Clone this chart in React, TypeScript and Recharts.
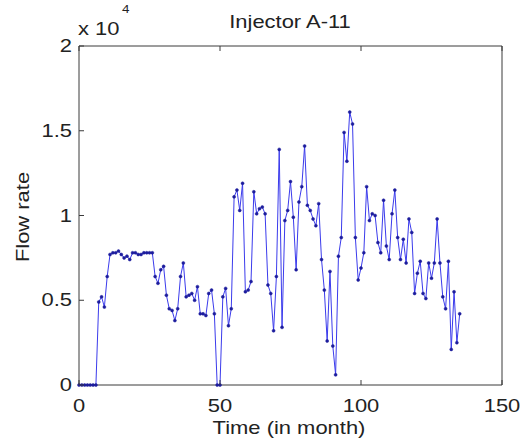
import { Line, LineChart, XAxis, YAxis } from 'recharts'

// monthly injection flow rate, months start at 0
const flowRate = [
  0, 0, 0, 0, 0, 0, 0, 4900, 5200, 4600,
  6400, 7700, 7800, 7800, 7900, 7700, 7500, 7600, 7400, 7800,
  7800, 7700, 7700, 7800, 7800, 7800, 7800, 6400, 6000, 6800,
  7000, 5300, 4500, 4400, 3800, 4500, 6400, 7200, 5200, 5300,
  5400, 5000, 5800, 4200, 4200, 4100, 5400, 5600, 4200, 0,
  0, 5200, 5700, 3500, 4500, 11100, 11500, 10300, 11900, 5500,
  5600, 6100, 11400, 10100, 10400, 10500, 10100, 5900, 5400, 3200,
  6400, 13900, 3400, 9700, 10300, 12000, 9900, 6800, 10800, 11700,
  14100, 10600, 10300, 9800, 9400, 10700, 7400, 5600, 2600, 6700,
  2300, 600, 7600, 8700, 14900, 13200, 16100, 15400, 8700, 6200,
  6900, 7800, 11700, 9700, 10100, 10000, 8400, 7800, 10900, 8200,
  7400, 10100, 11500, 8700, 7400, 8600, 7200, 9800, 9000, 5400,
  6600, 7300, 5400, 5100, 7200, 6300, 7200, 9800, 7200, 5200,
  4500, 7300, 2100, 5500, 2500, 4200,
]

const xTicks = [0, 50, 100, 150]
const yTicks = [0, 5000, 10000, 15000, 20000]
const yTickLabels = ['0', '0.5', '1', '1.5', '2']

const data = flowRate.map((flow, month) => ({ month, flow }))

const FONT = '"Liberation Sans", Arial, Helvetica, sans-serif'
const AXIS = '#3a3a3a'
const TEXT = '#222'
// the old figure's lettering is wider than plain Arial
const STRETCH = 1.22

const Txt = ({ x, y, anchor = 'start', size = 18, children }: any) => (
  <text
    transform={`translate(${x},${y}) scale(${STRETCH},1)`}
    textAnchor={anchor}
    fontSize={size}
    fontFamily={FONT}
    fill={TEXT}
  >
    {children}
  </text>
)

const BottomTick = ({ x, y, payload }: any) => (
  <g>
    <line x1={x} y1={y} x2={x} y2={y - 5} stroke={AXIS} />
    <Txt x={x} y={y + 27} anchor="middle">
      {payload.value}
    </Txt>
  </g>
)

const TopTick = ({ x, y }: any) => <line x1={x} y1={y} x2={x} y2={y + 5} stroke={AXIS} />

const LeftTick = ({ x, y, payload }: any) => (
  <g>
    <line x1={x} y1={y} x2={x + 5} y2={y} stroke={AXIS} />
    <Txt x={x - 7} y={y + 6} anchor="end">
      {yTickLabels[yTicks.indexOf(payload.value)]}
    </Txt>
  </g>
)

const RightTick = ({ x, y }: any) => <line x1={x} y1={y} x2={x - 5} y2={y} stroke={AXIS} />

export default function App() {
  return (
    <div style={{ position: 'absolute', left: 0, top: 0, width: 531, height: 448, background: '#fff' }}>
      <LineChart width={531} height={448} data={data} margin={{ top: 45, right: 28, bottom: 33, left: 39 }}>
        <XAxis
          xAxisId="bottom"
          dataKey="month"
          type="number"
          domain={[0, 150]}
          ticks={xTicks}
          height={30}
          tickSize={0}
          tickMargin={0}
          tickLine={false}
          axisLine={{ stroke: AXIS }}
          tick={<BottomTick />}
        />
        <XAxis
          xAxisId="top"
          orientation="top"
          dataKey="month"
          type="number"
          domain={[0, 150]}
          ticks={xTicks}
          height={1}
          tickSize={0}
          tickMargin={0}
          tickLine={false}
          axisLine={{ stroke: AXIS }}
          tick={<TopTick />}
        />
        <YAxis
          yAxisId="left"
          type="number"
          domain={[0, 20000]}
          ticks={yTicks}
          width={40}
          tickSize={0}
          tickMargin={0}
          tickLine={false}
          axisLine={{ stroke: AXIS }}
          tick={<LeftTick />}
        />
        <YAxis
          yAxisId="right"
          orientation="right"
          type="number"
          domain={[0, 20000]}
          ticks={yTicks}
          width={1}
          tickSize={0}
          tickMargin={0}
          tickLine={false}
          axisLine={{ stroke: AXIS }}
          tick={<RightTick />}
        />
        <Line
          xAxisId="bottom"
          yAxisId="left"
          type="linear"
          dataKey="flow"
          stroke="#3b3bec"
          strokeWidth={1}
          dot={{ r: 1.5, fill: '#1c1c9c', stroke: '#1c1c9c', strokeWidth: 0.5 }}
          isAnimationActive={false}
        />
      </LineChart>
      <svg width={531} height={448} style={{ position: 'absolute', left: 0, top: 0, pointerEvents: 'none' }}>
        <Txt x={290} y={28} anchor="middle" size={18}>
          Injector A-11
        </Txt>
        <Txt x={78} y={35} size={18}>
          x 10
        </Txt>
        <Txt x={122} y={13} size={11}>
          4
        </Txt>
        <Txt x={289} y={434} anchor="middle" size={18}>
          Time (in month)
        </Txt>
        <text
          transform={`translate(29,217) rotate(-90) scale(${STRETCH},1)`}
          textAnchor="middle"
          fontSize={18}
          fontFamily={FONT}
          fill={TEXT}
        >
          Flow rate
        </text>
      </svg>
    </div>
  )
}
